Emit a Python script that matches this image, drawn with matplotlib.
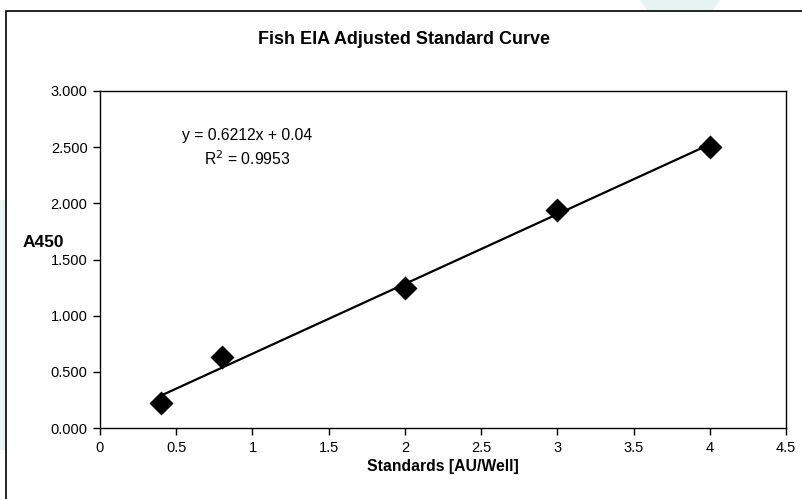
import matplotlib
matplotlib.use("Agg")
import matplotlib.pyplot as plt
from matplotlib.patches import Rectangle, Polygon
import numpy as np

plt.rcParams['font.family'] = ['Liberation Sans', 'DejaVu Sans']

# Data
standards = [0.4, 0.8, 2.0, 3.0, 4.0]
a450 = [0.223, 0.632, 1.245, 1.940, 2.500]
slope = 0.6212
intercept = 0.04
r2 = 0.9953
xticks = [0, 0.5, 1, 1.5, 2, 2.5, 3, 3.5, 4, 4.5]
yticks = [0.0, 0.5, 1.0, 1.5, 2.0, 2.5, 3.0]

fig = plt.figure(figsize=(8.02, 4.99), dpi=100)
fig.patch.set_facecolor('white')

# faint background shapes outside the chart frame
fig.patches.append(Polygon([[640/802, 1], [720/802, 1], [712/802, 1-11/499], [648/802, 1-11/499]],
                           closed=True, transform=fig.transFigure, facecolor='#e6f3f3',
                           edgecolor='none', zorder=0))
fig.patches.append(Rectangle((0, 1-450/499), 6/802, 250/499, transform=fig.transFigure,
                             facecolor='#e6f3f3', edgecolor='none', zorder=0))

# chart area frame (clipped at right and bottom)
fig.patches.append(Rectangle((6/802, -0.05), 1.0, 1.05 - 11/499, transform=fig.transFigure,
                             facecolor='white', edgecolor='black', linewidth=1.2, zorder=1))

ax = fig.add_axes([100/802, 1-428/499, (786-100)/802, (428-91)/499])
ax.set_zorder(2)

ax.scatter(standards, a450, marker='D', s=150, color='black', zorder=3, linewidths=0)
xfit = np.array([min(standards), max(standards)])
ax.plot(xfit, slope * xfit + intercept, color='black', linewidth=1.6, zorder=2)

ax.set_xlim(0, 4.5)
ax.set_ylim(0, 3.0)
ax.set_xticks(xticks)
ax.set_xticklabels([f"{t:g}" for t in xticks])
ax.set_yticks(yticks)
ax.set_yticklabels([f"{t:.3f}" for t in yticks])
ax.tick_params(direction='out', length=5, width=1, labelsize=10.5, colors='black', pad=4)
for s in ax.spines.values():
    s.set_linewidth(1)
    s.set_color('black')

ax.text(0.965, 2.60, f"y = {slope}x + {intercept}", ha='center', va='center', fontsize=11.3)
ax.text(0.965, 2.40, f"R$^2$ = {r2}", ha='center', va='center', fontsize=11.3)

fig.text(404/802, 1-39/499, "Fish EIA Adjusted Standard Curve", ha='center', va='center',
         fontsize=13, fontweight='bold')
fig.text(443/802, 1-466/499, "Standards [AU/Well]", ha='center', va='center',
         fontsize=11.3, fontweight='bold')
fig.text(23/802, 1-243/499, "A450", ha='left', va='center', fontsize=12.5, fontweight='bold')

fig.savefig("out.png", dpi=100)
